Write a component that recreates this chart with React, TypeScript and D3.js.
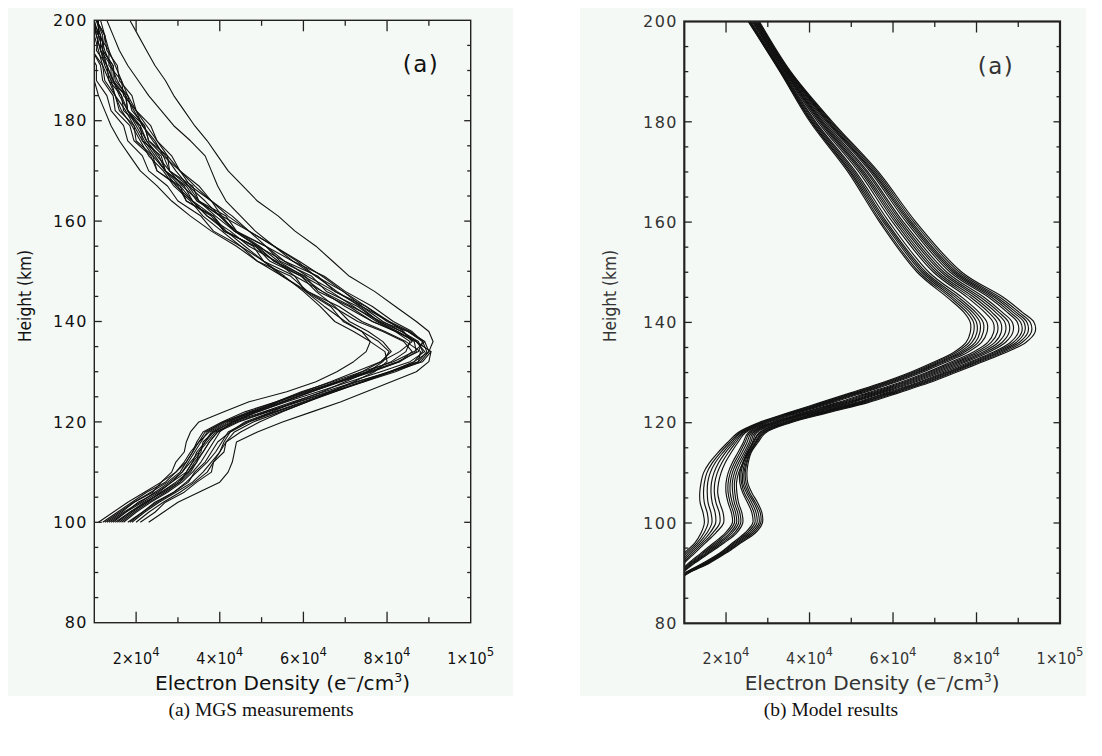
import React from "react";
import * as d3 from "d3";

// ---------- Panel (a): MGS measured profiles (density in 10^3 e-/cm3) ----------
const mgsHeights = [100, 102, 104, 106, 108, 110, 112, 114, 116, 118, 120, 122, 124, 126, 128, 130, 132, 134, 136, 138, 140, 143, 146, 149, 152, 155, 158, 161, 164, 167, 170, 173, 176, 179, 182, 185, 188, 191, 194, 197, 200];

const mgs01 = [14, 17.5, 20.5, 25, 28.5, 32, 33.5, 35.5, 36, 38.5, 43, 50.5, 57.5, 65, 72.5, 81, 88.5, 90.5, 87, 83.5, 78, 73, 65.5, 62, 54.5, 51, 43.5, 40.5, 34.5, 32, 27, 26, 21.5, 21, 17, 16.5, 13.5, 13, 10.5, 11, 9];
const mgs02 = [12, 15.5, 19, 22.5, 27, 29.5, 32, 33.5, 34.5, 36, 40.5, 46, 53.5, 59.5, 67, 74, 81.5, 86.5, 89, 85, 78.5, 71.5, 64.5, 59.5, 52, 48.5, 41, 38.5, 32, 30.5, 25, 24, 20, 19.5, 16, 15, 12.5, 12, 9.5, 10, 8];
const mgs03 = [18, 21.5, 24.5, 29, 32.5, 34, 36.5, 38, 39.5, 42.5, 46, 52.5, 58, 64.5, 70, 75.5, 79, 80.5, 78, 74, 69.5, 66.5, 60.5, 58, 50.5, 48, 41.5, 38.5, 33.5, 31.5, 27, 25.5, 22.5, 21, 18, 17.5, 14.5, 14.5, 12, 12.5, 10.5];
const mgs04 = [23, 26.5, 30, 35, 40, 42, 43, 43.5, 44, 49, 55, 62, 69, 75, 81, 87, 90, 90.5, 87, 82.5, 76.5, 70, 64.5, 58, 53.5, 47, 42.5, 37, 33.5, 29.5, 27, 24, 21.5, 19.5, 17.5, 15, 14, 12.5, 11.5, 10.5, 10];
const mgs05 = [13, 16.5, 19.5, 24, 26, 28.5, 29.5, 31.5, 32, 33, 35, 41, 47, 56, 63, 68, 72, 75, 76, 74, 70, 65, 60.5, 55, 50.5, 45, 40.5, 36, 33, 29, 26.5, 23, 21, 19, 16.5, 15, 13.5, 12, 11, 10, 9.5];
const mgs06 = [20, 23, 26.5, 30.5, 34, 37, 38.5, 40, 41.5, 43.5, 48, 54.5, 61, 67.5, 74.5, 81, 86.5, 90, 91, 90, 87, 82, 77, 71, 67, 63, 58, 54, 49, 45.5, 42, 39.5, 37, 34, 31.5, 29, 27, 24.5, 22.5, 20.5, 18.5];
const mgs07 = [11, 14.5, 18, 22, 26, 29.5, 31.5, 33, 35, 37.5, 41.5, 48, 55, 62, 69, 76.5, 83, 86, 84, 79, 73, 67, 61, 55, 49, 44, 38, 33, 28.5, 25, 21, 18.5, 16, 14, 12.5, 11, 10, 9, 8, 7, 6];
const mgs08 = [16, 19, 22.5, 26, 30, 32.5, 34.5, 36, 37.5, 39.5, 43.5, 49, 55.5, 62, 68.5, 74, 78.5, 81, 79, 75.5, 71, 67.5, 63, 59.5, 53, 49, 43.5, 40, 35, 32.5, 28, 26.5, 23, 22, 19, 18, 15, 14.5, 12, 12, 10.5];
const mgs09 = [15, 18.5, 22, 26.5, 30.5, 33, 34.5, 35, 37, 39, 44, 51, 58.5, 66, 73, 80.5, 87.5, 88, 84.5, 79.5, 74, 68.5, 61, 57, 49, 45, 38.5, 35.5, 30, 27.5, 23, 21.5, 18, 17, 14, 13, 10.5, 10.5, 8.5, 8.5, 7];
const mgs10 = [17, 20, 23.5, 27.5, 31, 33.5, 35.5, 37, 38.5, 40, 43, 48.5, 54, 60, 66.5, 72.5, 78.5, 83, 86, 84, 80.5, 75, 69.5, 63, 57.5, 51, 47, 40.5, 38, 33, 30.5, 26.5, 24.5, 21.5, 20, 17, 16.5, 13.5, 13.5, 11, 11];
const mgs11 = [19, 22, 25.5, 29.5, 33.5, 36, 38, 40, 41, 42.5, 47, 53.5, 60.5, 67.5, 74, 81, 87.5, 89.5, 88.5, 85, 80, 75, 67.5, 63.5, 55.5, 51, 44, 41.5, 35, 33.5, 28, 27.5, 23, 22, 18, 17.5, 14, 14, 11.5, 11.5, 9.5];
const mgs12 = [14.5, 17.5, 21.5, 25.5, 28.5, 31, 32.5, 34, 35.5, 37, 41, 47.5, 54, 61, 68, 75.5, 82.5, 87.5, 88.5, 86, 81.5, 76.5, 70, 65, 57.5, 53, 47, 43, 38, 35, 30.5, 28.5, 25, 23.5, 20, 19, 16, 15.5, 13, 12.5, 10.5];
const mgs13 = [21, 24.5, 27, 31.5, 34.5, 38, 38.5, 41, 41.5, 45, 49.5, 55, 61, 66.5, 72, 77, 80, 79.5, 76, 72, 67.5, 64, 60, 55.5, 50.5, 46, 41.5, 37, 33.5, 30.5, 27, 24.5, 22, 20, 18, 16, 14.5, 13, 12, 11, 10];
const mgs14 = [16.5, 19.5, 23, 27, 30.5, 32, 33.5, 34.5, 36.5, 38.5, 42.5, 49, 56, 63.5, 71, 78.5, 85.5, 89, 87, 82, 76.5, 71, 63.5, 60.5, 53, 48.5, 41, 38, 32, 30, 25, 23.5, 19.5, 18.5, 15, 14.5, 12, 11.5, 9.5, 9.5, 7.5];
const mgs15 = [13.5, 17, 21, 24.5, 28, 31, 33, 35, 36.5, 38, 42, 48, 55, 61.5, 68.5, 76, 83, 87, 86.5, 82.5, 78, 73.5, 68, 63, 58.5, 53, 48.5, 45, 41.5, 39.5, 38, 36.5, 33, 29, 26, 23, 20.5, 18, 16, 14.5, 13];
const mgs16 = [15.5, 18.5, 22.5, 26, 29.5, 32.5, 34, 36, 37.5, 39.5, 44.5, 51.5, 59, 66.5, 74.5, 82, 88, 90, 89, 85.5, 80.5, 74, 67.5, 61, 55.5, 49, 43.5, 39, 35, 31, 28, 25, 22.5, 20.5, 18, 16.5, 14.5, 13, 11.5, 10.5, 9.5];
const mgs17 = [12.5, 16, 19.5, 23.5, 27.5, 30.5, 32, 33.5, 35, 36.5, 41, 47, 53.5, 60.5, 68, 75, 81, 84.5, 85.5, 82, 77.5, 72, 66.5, 60, 54, 49.5, 44, 40, 36.5, 32.5, 29.5, 27, 24, 21.5, 19.5, 17.5, 15.5, 14, 12.5, 11.5, 10.5];
const mgs18 = [18.5, 21.5, 25, 29, 32, 34.5, 37, 39, 40.5, 42, 46.5, 53, 60, 67, 74, 80.5, 86.5, 88.5, 87.5, 83.5, 79, 74, 69.5, 64.5, 59, 53, 47, 42, 38, 34, 30.5, 27.5, 25, 22.5, 20, 18, 16.5, 15, 13.5, 12.5, 11.5];

const mgsProfiles = [mgs01, mgs02, mgs03, mgs04, mgs05, mgs06, mgs07, mgs08, mgs09, mgs10, mgs11, mgs12, mgs13, mgs14, mgs15, mgs16, mgs17, mgs18];

// ---------- Panel (b): model profiles (density in 10^3 e-/cm3) ----------
const modelHeights = [88, 90, 92, 94, 96, 98, 100, 102, 104, 106, 108, 110, 112, 114, 116, 118, 120, 122, 124, 126, 128, 130, 132, 134, 136, 138, 140, 142, 145, 150, 160, 170, 180, 190, 200];

const modL1 = [5, 6.5, 8.5, 10, 12.5, 14, 14.8, 14.5, 13.8, 13.7, 14, 14.6, 16, 18, 20.3, 22.8, 27.8, 35, 42.5, 50, 57.5, 64, 69.5, 74.5, 77.5, 78.5, 78.5, 77, 73, 65.8, 56.8, 49.2, 40.1, 32.9, 25.3];
const modL2 = [5.2, 6.8, 8.8, 10.5, 13, 14.7, 15.7, 15.5, 14.8, 14.6, 14.8, 15.4, 16.7, 18.6, 20.8, 23.2, 28.2, 35.5, 43.1, 50.6, 58.1, 64.6, 70.1, 75.1, 78.2, 79.3, 79.3, 77.7, 73.7, 66.3, 57.2, 49.6, 40.4, 33.0, 25.4];
const modL3 = [5.4, 7.1, 9.1, 11, 13.5, 15.4, 16.6, 16.4, 15.7, 15.5, 15.6, 16.2, 17.4, 19.2, 21.3, 23.5, 28.6, 36.0, 43.7, 51.2, 58.6, 65.1, 70.7, 75.8, 78.9, 80.1, 80.0, 78.4, 74.3, 66.9, 57.7, 49.9, 40.6, 33.2, 25.6];
const modL4 = [5.6, 7.4, 9.4, 11.5, 14, 16.1, 17.5, 17.4, 16.7, 16.4, 16.5, 17.1, 18.2, 19.8, 21.8, 23.9, 29.0, 36.4, 44.2, 51.7, 59.2, 65.7, 71.2, 76.4, 79.7, 80.8, 80.8, 79.1, 75.0, 67.4, 58.1, 50.3, 40.9, 33.3, 25.7];
const modL5 = [5.8, 7.7, 9.7, 12, 14.5, 16.8, 18.5, 18.4, 17.6, 17.2, 17.3, 17.9, 19, 20.5, 22.3, 24.2, 29.4, 36.9, 44.8, 52.3, 59.8, 66.2, 71.8, 77.0, 80.4, 81.6, 81.6, 79.8, 75.7, 67.9, 58.5, 50.7, 41.2, 33.4, 25.8];
const modL6 = [6, 8, 10, 12.5, 15, 17.5, 19.4, 19.3, 18.5, 18, 18.2, 18.8, 19.8, 21.2, 22.8, 24.6, 29.9, 37.5, 45.5, 53.0, 60.4, 66.9, 72.5, 77.8, 81.2, 82.5, 82.5, 80.6, 76.5, 68.6, 59.1, 51.1, 41.5, 33.6, 26.0];
const modM1 = [6, 8.5, 11, 14, 17, 19.8, 21.5, 21.3, 20.5, 20, 20, 20.5, 21.5, 22.8, 24.1, 25.3, 30.6, 38.4, 46.6, 54.1, 61.6, 68.0, 73.6, 79.0, 82.7, 84.1, 84.0, 82.0, 77.8, 69.7, 59.9, 51.8, 42.0, 33.8, 26.3];
const modM2 = [6.2, 8.7, 11.3, 14.4, 17.5, 20.3, 22, 21.8, 21, 20.5, 20.5, 21, 22, 23.3, 24.5, 25.7, 31.1, 39.0, 47.3, 54.8, 62.3, 68.6, 74.3, 79.8, 83.5, 85.0, 84.9, 82.9, 78.6, 70.3, 60.5, 52.3, 42.4, 34.0, 26.4];
const modM3 = [6.4, 8.9, 11.6, 14.8, 18, 20.9, 22.5, 22.3, 21.5, 21, 21, 21.5, 22.5, 23.8, 25, 26.1, 31.5, 39.6, 48.0, 55.5, 62.9, 69.3, 75.0, 80.5, 84.4, 85.9, 85.8, 83.7, 79.4, 70.9, 61.0, 52.7, 42.7, 34.2, 26.6];
const modM4 = [6.6, 9.1, 11.9, 15.2, 18.5, 21.4, 23, 22.8, 22, 21.6, 21.5, 22, 23, 24.3, 25.5, 26.5, 32.0, 40.1, 48.7, 56.2, 63.6, 69.9, 75.7, 81.3, 85.2, 86.9, 86.8, 84.6, 80.2, 71.6, 61.5, 53.1, 43.0, 34.3, 26.8];
const modM5 = [6.8, 9.3, 12.2, 15.6, 19, 22, 23.5, 23.3, 22.5, 22.1, 22, 22.5, 23.5, 24.7, 25.9, 26.9, 32.4, 40.7, 49.4, 56.9, 64.3, 70.6, 76.4, 82.0, 86.1, 87.8, 87.7, 85.4, 81.0, 72.2, 62.0, 53.6, 43.3, 34.5, 26.9];
const modM6 = [7, 9.5, 12.5, 16, 19.5, 22.5, 24, 23.8, 23, 22.6, 22.5, 23, 24, 25.2, 26.3, 27.3, 32.9, 41.3, 50.1, 57.6, 65.0, 71.3, 77.1, 82.8, 86.9, 88.7, 88.6, 86.2, 81.8, 72.9, 62.5, 54.0, 43.7, 34.6, 27.1];
const modR1 = [7, 10, 14.5, 18.5, 21.5, 24.5, 26.4, 26.2, 25.2, 24, 23.3, 23.3, 24, 25, 26.4, 27.9, 33.5, 42.0, 51.0, 58.5, 65.9, 72.1, 78.0, 83.8, 88.1, 90.0, 89.8, 87.4, 82.9, 73.7, 63.2, 54.6, 44.1, 34.8, 27.3];
const modR2 = [7.1, 10.2, 14.8, 18.8, 21.9, 25, 26.9, 26.7, 25.7, 24.4, 23.7, 23.6, 24.2, 25.2, 26.6, 28.1, 33.9, 42.5, 51.6, 59.1, 66.4, 72.7, 78.6, 84.4, 88.8, 90.8, 90.6, 88.1, 83.6, 74.3, 63.7, 55.0, 44.4, 35.0, 27.4];
const modR3 = [7.2, 10.4, 15.1, 19.1, 22.3, 25.5, 27.4, 27.2, 26.2, 24.9, 24, 24, 24.5, 25.4, 26.9, 28.5, 34.3, 43.0, 52.2, 59.7, 67.0, 73.2, 79.2, 85.0, 89.5, 91.5, 91.4, 88.8, 84.3, 74.8, 64.1, 55.3, 44.6, 35.1, 27.6];
const modR4 = [7.3, 10.6, 15.4, 19.4, 22.7, 26, 27.9, 27.7, 26.7, 25.3, 24.4, 24.3, 24.8, 25.6, 27.1, 28.8, 34.7, 43.5, 52.7, 60.2, 67.6, 73.8, 79.7, 85.6, 90.2, 92.3, 92.1, 89.5, 84.9, 75.3, 64.5, 55.7, 44.9, 35.2, 27.7];
const modR5 = [7.4, 10.8, 15.7, 19.7, 23.1, 26.5, 28.3, 28.2, 27.1, 25.7, 24.8, 24.6, 25, 25.8, 27.3, 29.1, 35.0, 43.9, 53.3, 60.8, 68.1, 74.3, 80.3, 86.3, 90.9, 93.1, 92.9, 90.2, 85.6, 75.9, 65.0, 56.1, 45.2, 35.3, 27.8];
const modR6 = [7.5, 11, 16, 20, 23.5, 27, 28.7, 28.6, 27.6, 26.2, 25.2, 25, 25.3, 26, 27.6, 29.5, 35.5, 44.5, 54, 61.5, 68.8, 75, 81, 87, 91.8, 94, 93.8, 91, 86.4, 76.5, 65.5, 56.5, 45.5, 35.5, 28];

const modelProfiles = [modL1, modL2, modL3, modL4, modL5, modL6, modM1, modM2, modM3, modM4, modM5, modM6, modR1, modR2, modR3, modR4, modR5, modR6];

// ---------- Axes ----------
const densityDomain = [1e4, 1e5];
const heightDomain = [80, 200];
const xMajorTicks = [2e4, 4e4, 6e4, 8e4];
const xMinorTicks = [3e4, 5e4, 7e4, 9e4];
const xLabelValues = [2e4, 4e4, 6e4, 8e4, 1e5];
const xLabelMantissas = ["2", "4", "6", "8", "1"];
const xLabelExponents = ["4", "4", "4", "4", "5"];
const yMajorTicks = [100, 120, 140, 160, 180];
const yMinorTicks = [85, 90, 95, 105, 110, 115, 125, 130, 135, 145, 150, 155, 165, 170, 175, 185, 190, 195];
const yLabelValues = [80, 100, 120, 140, 160, 180, 200];
const captions = ["(a) MGS measurements", "(b) Model results"];
const panelTags = ["(a)", "(a)"];

const axisFont = "'DejaVu Sans', sans-serif";
const narrowFont = "'Liberation Sans Narrow', 'DejaVu Sans Condensed', 'Roboto Condensed', 'Liberation Sans', sans-serif";

type PanelProps = {
  profiles: number[][];
  heights: number[];
  x0: number; x1: number; y0: number; y1: number;
  smooth: boolean;
  frameWidth: number;
  textColor: string;
  lineWidth: number;
  tag: string;
  tagX: number;
  heightLabelX: number;
  bg: [number, number, number, number];
  id: string;
};

function Panel(p: PanelProps) {
  const x = d3.scaleLinear().domain(densityDomain).range([p.x0, p.x1]);
  const y = d3.scaleLinear().domain(heightDomain).range([p.y1, p.y0]);
  const line = d3
    .line<[number, number]>()
    .x((d) => x(d[0] * 1000))
    .y((d) => y(d[1]))
    .curve(p.smooth ? d3.curveCatmullRom.alpha(0.5) : d3.curveLinear);
  const mj = 11, mn = 5.5;
  const ymjL = 7.5, ymnL = 4, ymjR = 6.5, ymnR = 3.5;
  const cx = (p.x0 + p.x1) / 2;
  return (
    <g>
      <rect x={p.bg[0]} y={p.bg[1]} width={p.bg[2]} height={p.bg[3]} fill="#f5f9f5" />
      <defs>
        <clipPath id={p.id}>
          <rect x={p.x0} y={p.y0} width={p.x1 - p.x0} height={p.y1 - p.y0} />
        </clipPath>
      </defs>
      <g clipPath={`url(#${p.id})`}>
        {p.profiles.map((prof, i) => (
          <path
            key={i}
            d={line(prof.map((v, j) => [v, p.heights[j]] as [number, number])) || ""}
            fill="none"
            stroke="#111"
            strokeWidth={p.lineWidth}
            strokeLinejoin="round"
          />
        ))}
      </g>
      <rect x={p.x0} y={p.y0} width={p.x1 - p.x0} height={p.y1 - p.y0} fill="none" stroke="#222" strokeWidth={p.frameWidth} />
      {xMajorTicks.map((t) => (
        <g key={"xm" + t} stroke="#222" strokeWidth={1.3}>
          <line x1={x(t)} x2={x(t)} y1={p.y1} y2={p.y1 - mj} />
          <line x1={x(t)} x2={x(t)} y1={p.y0} y2={p.y0 + mj} />
        </g>
      ))}
      {xMinorTicks.map((t) => (
        <g key={"xn" + t} stroke="#222" strokeWidth={1.3}>
          <line x1={x(t)} x2={x(t)} y1={p.y1} y2={p.y1 - mn} />
          <line x1={x(t)} x2={x(t)} y1={p.y0} y2={p.y0 + mn} />
        </g>
      ))}
      {yMajorTicks.map((t) => (
        <g key={"ym" + t} stroke="#222" strokeWidth={1.3}>
          <line x1={p.x0} x2={p.x0 + ymjL} y1={y(t)} y2={y(t)} />
          <line x1={p.x1} x2={p.x1 - ymjR} y1={y(t)} y2={y(t)} />
        </g>
      ))}
      {yMinorTicks.map((t) => (
        <g key={"yn" + t} stroke="#222" strokeWidth={1.3}>
          <line x1={p.x0} x2={p.x0 + ymnL} y1={y(t)} y2={y(t)} />
          <line x1={p.x1} x2={p.x1 - ymnR} y1={y(t)} y2={y(t)} />
        </g>
      ))}
      {yLabelValues.map((t) => (
        <text key={"yl" + t} x={p.x0 - 6.5} y={y(t)} dy="0.36em" textAnchor="end" fontFamily={axisFont} fontSize={16} letterSpacing={1.4} fill={p.textColor}>
          {t}
        </text>
      ))}
      {xLabelValues.map((t, i) => (
        <text key={"xl" + t} x={x(t)} y={p.y1 + 41} textAnchor="middle" fontFamily={narrowFont} fontSize={16} fill={p.textColor}>
          {xLabelMantissas[i]}×10
          <tspan dy={-8} fontSize={13}>{xLabelExponents[i]}</tspan>
        </text>
      ))}
      <text x={cx} y={p.y1 + 67} textAnchor="middle" fontFamily={narrowFont} fontSize={20} fill={p.textColor}
        textLength={255} lengthAdjust="spacingAndGlyphs">
        Electron Density (e<tspan dy={-8} fontSize={12.5}>−</tspan>
        <tspan dy={8}>/cm</tspan>
        <tspan dy={-8} fontSize={12.5}>3</tspan>
        <tspan dy={8}>)</tspan>
      </text>
      <text
        transform={`translate(${p.heightLabelX},296) rotate(-90)`}
        textAnchor="middle"
        fontFamily={narrowFont}
        fontSize={18}
        fill={p.textColor}
        textLength={92}
        lengthAdjust="spacingAndGlyphs"
      >
        Height (km)
      </text>
      <text x={p.tagX} y={p.y0 + 52} textAnchor="middle" fontFamily={axisFont} fontSize={23} letterSpacing={1.5} fill={p.textColor}>
        {p.tag}
      </text>
    </g>
  );
}

export default function App() {
  return (
    <svg width={1086} height={740} style={{ display: "block" }}>
      <g transform="translate(-8,-8)">
        <rect x={0} y={0} width={1102} height={756} fill="#ffffff" />
        <Panel
          id="clipA"
          profiles={mgsProfiles}
          heights={mgsHeights}
          x0={94.3} x1={470.7} y0={20.3} y1={622.7}
          smooth={false}
          frameWidth={1.4}
          textColor="#111"
          lineWidth={1.1}
          tag={panelTags[0]}
          tagX={421}
          heightLabelX={31}
          bg={[7, 7, 506, 689]}
        />
        <Panel
          id="clipB"
          profiles={modelProfiles}
          heights={modelHeights}
          x0={684.3} x1={1060} y0={21.5} y1={623.3}
          smooth={true}
          frameWidth={2.2}
          textColor="#333"
          lineWidth={1.15}
          tag={panelTags[1]}
          tagX={996}
          heightLabelX={616}
          bg={[580, 7, 506, 689]}
        />
        <text x={261} y={716} textAnchor="middle" fontFamily="'Liberation Serif', serif" fontSize={19.5} fill="#111">
          {captions[0]}
        </text>
        <text x={831} y={716} textAnchor="middle" fontFamily="'Liberation Serif', serif" fontSize={19.5} fill="#111">
          {captions[1]}
        </text>
      </g>
    </svg>
  );
}
